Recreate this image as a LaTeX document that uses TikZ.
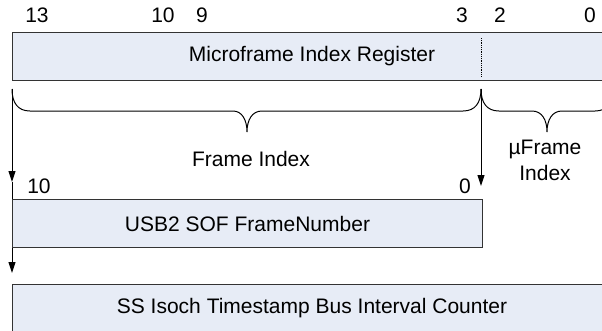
\documentclass[tikz,border=0pt]{standalone}
\usepackage{fontspec}
\setmainfont{Liberation Sans}
\usetikzlibrary{arrows.meta}
\definecolor{boxfill}{HTML}{E7ECF6}
\definecolor{lineclr}{HTML}{333333}
\begin{document}
\begin{tikzpicture}[x=1pt,y=-1pt,
  every node/.style={font=\fontsize{21}{24}\selectfont, text=black, inner sep=0pt},
  regbox/.style={draw=lineclr, line width=1pt, fill=boxfill, anchor=north west, minimum height=48pt},
  lbl/.style={anchor=center},
  brace/.style={draw=black, line width=1pt},
  conn/.style={draw=black, line width=1pt},
  arr/.style={conn, -{Triangle[width=7pt,length=11pt]}}]
\useasboundingbox (0,0) rectangle (602,330);
% boxes
\node[regbox, minimum width=599pt] (mir) at (12,32) {Microframe Index Register};
\node[regbox, minimum width=470pt] (usb) at (12,199) {USB2 SOF FrameNumber};
\node[regbox, minimum width=599pt] (ss) at (12,284) {SS Isoch Timestamp Bus Interval Counter};
% dotted divider
\coordinate (d1) at (481,38);
\coordinate (d2) at (481,77);
\draw[densely dotted, line width=0.8pt, draw=black] (d1) -- (d2);
% bit labels
\node[lbl] (b13) at (37,15) {13};
\node[lbl] (b10) at (163,15) {10};
\node[lbl] (b9) at (202,15) {9};
\node[lbl] (b3) at (462,15) {3};
\node[lbl] (b2) at (500,15) {2};
\node[lbl] (b0) at (590,15) {0};
\node[lbl] (u10) at (39,186) {10};
\node[lbl] (u0) at (465,186) {0};
% braces
\coordinate (bl) at (12,89);
\coordinate (bm) at (481,89);
\coordinate (brr) at (613,89);
\draw[brace] (bl) .. controls (12,103) and (18,111) .. (30,111) -- (233,111)
  .. controls (242,111) and (247,120) .. (247,132)
  .. controls (247,120) and (252,111) .. (262,111) -- (463,111)
  .. controls (475,111) and (481,103) .. (bm);
\draw[brace] (bm) .. controls (481,103) and (487,111) .. (499,111) -- (532,111)
  .. controls (542,111) and (547,120) .. (547,132)
  .. controls (547,120) and (552,111) .. (562,111) -- (595,111)
  .. controls (607,111) and (613,103) .. (brr);
\node[lbl] (fi) at (251,159) {Frame Index};
\node[lbl, align=center] (ufi) at (545,160) {µFrame\\[2pt]Index};
% connectors
\coordinate (a1) at (12,182);
\coordinate (a2) at (12,273);
\coordinate (a3) at (481,186);
\draw[arr] (bl) -- (a1);
\draw[conn] (a1) -- (usb.north west);
\draw[arr] (usb.south west) -- (a2);
\draw[arr] (bm) -- (a3);
\end{tikzpicture}
\end{document}
